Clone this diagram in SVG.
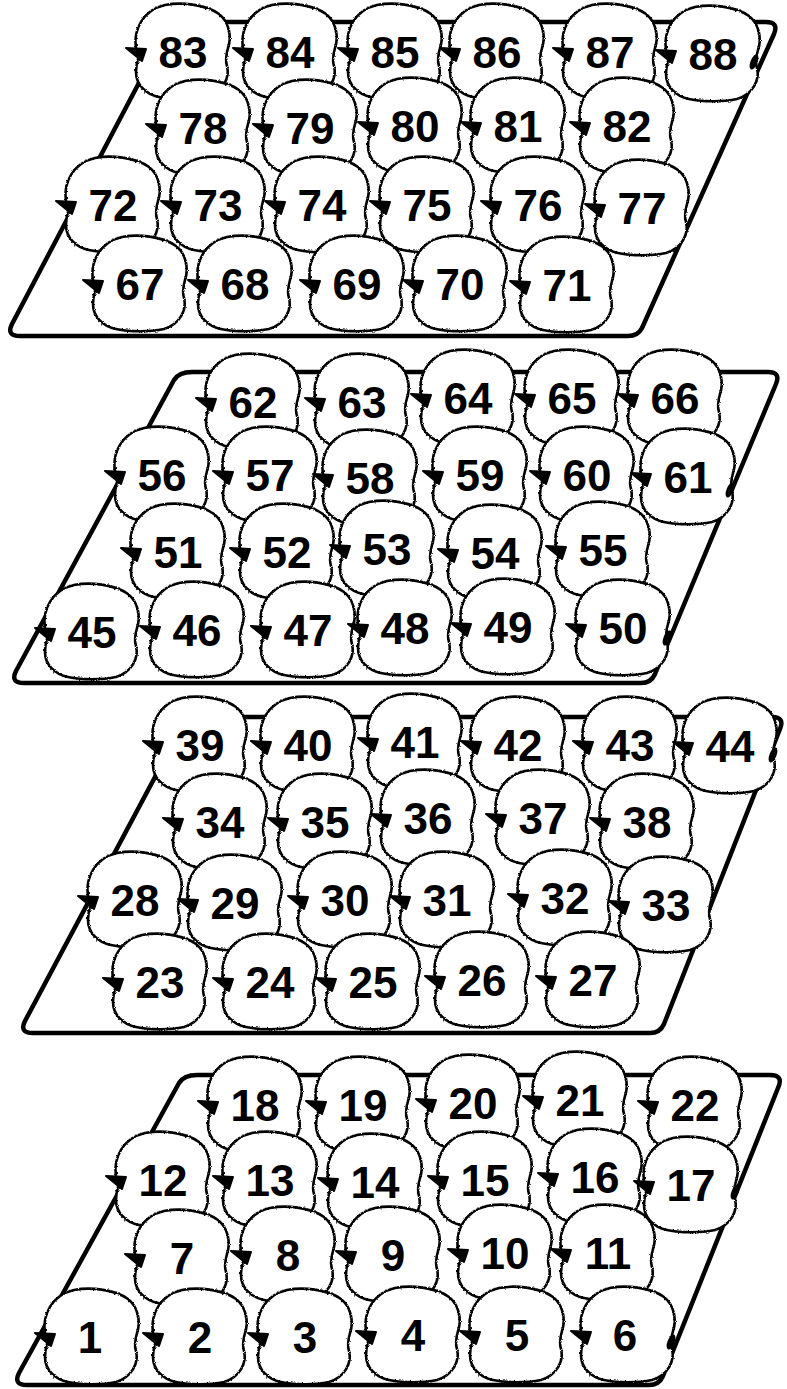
<svg xmlns="http://www.w3.org/2000/svg" xmlns:xlink="http://www.w3.org/1999/xlink" width="787" height="1389" viewBox="0 0 787 1389">
<style>
.tray{fill:none;stroke:#000;stroke-width:4.5;stroke-linejoin:round;stroke-linecap:round}
.ap{filter:url(#rough)}
text{font-family:"Liberation Sans",Arial,Helvetica,sans-serif;font-weight:bold;font-size:44px;fill:#000;text-anchor:middle}
.mk{fill:#000}
</style>
<defs>
<filter id="rough" x="-10%" y="-10%" width="120%" height="120%">
<feTurbulence type="fractalNoise" baseFrequency="0.7" numOctaves="2" seed="4" result="n"/>
<feDisplacementMap in="SourceGraphic" in2="n" scale="2.6" xChannelSelector="R" yChannelSelector="G"/>
</filter>
<path id="apple" fill="#fff" stroke="#000" stroke-width="2.6" stroke-linejoin="round" d="M -47,-4 C -50,-22 -40,-42 -18,-47 C -2,-50 22,-48 36,-38 C 46,-30 49,-16 45,-4 C 43,3 42,8 44,14 C 47,26 40,40 24,45 C 10,48 -10,48 -24,45 C -38,42 -47,32 -47,20 C -47,12 -45,8 -44,3 C -44,0 -46,-2 -47,-4 Z"/>
<path id="arr" fill="#000" stroke="#000" stroke-width="2" stroke-linejoin="round" d="M -57,-4 L -37,-3 L -41,9 Z"/>
</defs>
<rect width="787" height="1389" fill="#fff"/>
<g id="trays">
<path class="tray" d="M 171,22 L 766,22 Q 779,22 774,34 L 642,328 Q 638,336 628,336 L 20,336 Q 6,336 12,324 Z"/>
<path class="tray" d="M 192,372 L 768,372 Q 781,372 776,384 L 655,674 Q 651,683 641,683 L 24,683 Q 10,683 16,671 L 174,380 Q 179,372 192,372 Z"/>
<path class="tray" d="M 187,717 L 772,717 Q 785,717 780,729 L 664,1024 Q 660,1033 650,1033 L 33,1033 Q 19,1033 25,1021 Z"/>
<path class="tray" d="M 197,1075 L 770,1075 Q 784,1075 778,1088 L 663,1376 Q 659,1385 649,1385 L 27,1385 Q 13,1385 19,1373 L 179,1083 Q 184,1075 197,1075 Z"/>
</g>
<g id="tray1">
<g id="n83"><use class="ap" href="#apple" x="183" y="52"/><use href="#arr" x="183" y="52"/><text x="183" y="68">83</text></g>
<g id="n84"><use class="ap" href="#apple" x="290" y="52"/><use href="#arr" x="290" y="52"/><text x="290" y="68">84</text></g>
<g id="n85"><use class="ap" href="#apple" x="395" y="52"/><use href="#arr" x="395" y="52"/><text x="395" y="68">85</text></g>
<g id="n86"><use class="ap" href="#apple" x="497" y="52"/><use href="#arr" x="497" y="52"/><text x="497" y="68">86</text></g>
<g id="n87"><use class="ap" href="#apple" x="610" y="52"/><use href="#arr" x="610" y="52"/><text x="610" y="68">87</text></g>
<g id="n88"><use class="ap" href="#apple" x="713" y="54"/><use href="#arr" x="713" y="54"/><text x="713" y="70">88</text><ellipse class="mk" cx="754" cy="62" rx="3.5" ry="8" transform="rotate(22 754 62)"/></g>
<g id="n78"><use class="ap" href="#apple" x="203" y="128"/><use href="#arr" x="203" y="128"/><text x="203" y="144">78</text></g>
<g id="n79"><use class="ap" href="#apple" x="310" y="128"/><use href="#arr" x="310" y="128"/><text x="310" y="144">79</text></g>
<g id="n80"><use class="ap" href="#apple" x="415" y="126"/><use href="#arr" x="415" y="126"/><text x="415" y="142">80</text></g>
<g id="n81"><use class="ap" href="#apple" x="518" y="126"/><use href="#arr" x="518" y="126"/><text x="518" y="142">81</text></g>
<g id="n82"><use class="ap" href="#apple" x="627" y="126"/><use href="#arr" x="627" y="126"/><text x="627" y="142">82</text></g>
<g id="n72"><use class="ap" href="#apple" x="113" y="205"/><use href="#arr" x="113" y="205"/><text x="113" y="221">72</text></g>
<g id="n73"><use class="ap" href="#apple" x="218" y="205"/><use href="#arr" x="218" y="205"/><text x="218" y="221">73</text></g>
<g id="n74"><use class="ap" href="#apple" x="322" y="205"/><use href="#arr" x="322" y="205"/><text x="322" y="221">74</text></g>
<g id="n75"><use class="ap" href="#apple" x="427" y="205"/><use href="#arr" x="427" y="205"/><text x="427" y="221">75</text></g>
<g id="n76"><use class="ap" href="#apple" x="538" y="205"/><use href="#arr" x="538" y="205"/><text x="538" y="221">76</text></g>
<g id="n77"><use class="ap" href="#apple" x="642" y="208"/><use href="#arr" x="642" y="208"/><text x="642" y="224">77</text></g>
<g id="n67"><use class="ap" href="#apple" x="140" y="284"/><use href="#arr" x="140" y="284"/><text x="140" y="300">67</text></g>
<g id="n68"><use class="ap" href="#apple" x="245" y="284"/><use href="#arr" x="245" y="284"/><text x="245" y="300">68</text></g>
<g id="n69"><use class="ap" href="#apple" x="357" y="284"/><use href="#arr" x="357" y="284"/><text x="357" y="300">69</text></g>
<g id="n70"><use class="ap" href="#apple" x="460" y="284"/><use href="#arr" x="460" y="284"/><text x="460" y="300">70</text></g>
<g id="n71"><use class="ap" href="#apple" x="567" y="285"/><use href="#arr" x="567" y="285"/><text x="567" y="301">71</text></g>
</g>
<g id="tray2">
<g id="n62"><use class="ap" href="#apple" x="253" y="402"/><use href="#arr" x="253" y="402"/><text x="253" y="418">62</text></g>
<g id="n63"><use class="ap" href="#apple" x="362" y="402"/><use href="#arr" x="362" y="402"/><text x="362" y="418">63</text></g>
<g id="n64"><use class="ap" href="#apple" x="468" y="398"/><use href="#arr" x="468" y="398"/><text x="468" y="414">64</text></g>
<g id="n65"><use class="ap" href="#apple" x="572" y="398"/><use href="#arr" x="572" y="398"/><text x="572" y="414">65</text></g>
<g id="n66"><use class="ap" href="#apple" x="675" y="398"/><use href="#arr" x="675" y="398"/><text x="675" y="414">66</text></g>
<g id="n56"><use class="ap" href="#apple" x="162" y="475"/><use href="#arr" x="162" y="475"/><text x="162" y="491">56</text></g>
<g id="n57"><use class="ap" href="#apple" x="270" y="475"/><use href="#arr" x="270" y="475"/><text x="270" y="491">57</text></g>
<g id="n58"><use class="ap" href="#apple" x="370" y="478"/><use href="#arr" x="370" y="478"/><text x="370" y="494">58</text></g>
<g id="n59"><use class="ap" href="#apple" x="480" y="475"/><use href="#arr" x="480" y="475"/><text x="480" y="491">59</text></g>
<g id="n60"><use class="ap" href="#apple" x="587" y="475"/><use href="#arr" x="587" y="475"/><text x="587" y="491">60</text></g>
<g id="n61"><use class="ap" href="#apple" x="688" y="477"/><use href="#arr" x="688" y="477"/><text x="688" y="493">61</text><ellipse class="mk" cx="730" cy="490" rx="3.5" ry="8" transform="rotate(22 730 490)"/></g>
<g id="n51"><use class="ap" href="#apple" x="178" y="552"/><use href="#arr" x="178" y="552"/><text x="178" y="568">51</text></g>
<g id="n52"><use class="ap" href="#apple" x="287" y="552"/><use href="#arr" x="287" y="552"/><text x="287" y="568">52</text></g>
<g id="n53"><use class="ap" href="#apple" x="387" y="549"/><use href="#arr" x="387" y="549"/><text x="387" y="565">53</text></g>
<g id="n54"><use class="ap" href="#apple" x="495" y="553"/><use href="#arr" x="495" y="553"/><text x="495" y="569">54</text></g>
<g id="n55"><use class="ap" href="#apple" x="603" y="550"/><use href="#arr" x="603" y="550"/><text x="603" y="566">55</text></g>
<g id="n45"><use class="ap" href="#apple" x="92" y="632"/><use href="#arr" x="92" y="632"/><text x="92" y="648">45</text></g>
<g id="n46"><use class="ap" href="#apple" x="197" y="630"/><use href="#arr" x="197" y="630"/><text x="197" y="646">46</text></g>
<g id="n47"><use class="ap" href="#apple" x="308" y="630"/><use href="#arr" x="308" y="630"/><text x="308" y="646">47</text></g>
<g id="n48"><use class="ap" href="#apple" x="405" y="628"/><use href="#arr" x="405" y="628"/><text x="405" y="644">48</text></g>
<g id="n49"><use class="ap" href="#apple" x="508" y="627"/><use href="#arr" x="508" y="627"/><text x="508" y="643">49</text></g>
<g id="n50"><use class="ap" href="#apple" x="623" y="628"/><use href="#arr" x="623" y="628"/><text x="623" y="644">50</text><ellipse class="mk" cx="667" cy="638" rx="3.5" ry="8" transform="rotate(22 667 638)"/></g>
</g>
<g id="tray3">
<g id="n39"><use class="ap" href="#apple" x="200" y="745"/><use href="#arr" x="200" y="745"/><text x="200" y="761">39</text></g>
<g id="n40"><use class="ap" href="#apple" x="308" y="745"/><use href="#arr" x="308" y="745"/><text x="308" y="761">40</text></g>
<g id="n41"><use class="ap" href="#apple" x="415" y="742"/><use href="#arr" x="415" y="742"/><text x="415" y="758">41</text></g>
<g id="n42"><use class="ap" href="#apple" x="518" y="745"/><use href="#arr" x="518" y="745"/><text x="518" y="761">42</text></g>
<g id="n43"><use class="ap" href="#apple" x="630" y="745"/><use href="#arr" x="630" y="745"/><text x="630" y="761">43</text></g>
<g id="n44"><use class="ap" href="#apple" x="730" y="746"/><use href="#arr" x="730" y="746"/><text x="730" y="762">44</text><ellipse class="mk" cx="773" cy="755" rx="3.5" ry="8" transform="rotate(22 773 755)"/></g>
<g id="n34"><use class="ap" href="#apple" x="220" y="822"/><use href="#arr" x="220" y="822"/><text x="220" y="838">34</text></g>
<g id="n35"><use class="ap" href="#apple" x="325" y="822"/><use href="#arr" x="325" y="822"/><text x="325" y="838">35</text></g>
<g id="n36"><use class="ap" href="#apple" x="428" y="818"/><use href="#arr" x="428" y="818"/><text x="428" y="834">36</text></g>
<g id="n37"><use class="ap" href="#apple" x="543" y="818"/><use href="#arr" x="543" y="818"/><text x="543" y="834">37</text></g>
<g id="n38"><use class="ap" href="#apple" x="647" y="822"/><use href="#arr" x="647" y="822"/><text x="647" y="838">38</text></g>
<g id="n28"><use class="ap" href="#apple" x="135" y="900"/><use href="#arr" x="135" y="900"/><text x="135" y="916">28</text></g>
<g id="n29"><use class="ap" href="#apple" x="235" y="903"/><use href="#arr" x="235" y="903"/><text x="235" y="919">29</text></g>
<g id="n30"><use class="ap" href="#apple" x="345" y="900"/><use href="#arr" x="345" y="900"/><text x="345" y="916">30</text></g>
<g id="n31"><use class="ap" href="#apple" x="447" y="900"/><use href="#arr" x="447" y="900"/><text x="447" y="916">31</text></g>
<g id="n32"><use class="ap" href="#apple" x="565" y="898"/><use href="#arr" x="565" y="898"/><text x="565" y="914">32</text></g>
<g id="n33"><use class="ap" href="#apple" x="666" y="905"/><use href="#arr" x="666" y="905"/><text x="666" y="921">33</text></g>
<g id="n23"><use class="ap" href="#apple" x="160" y="982"/><use href="#arr" x="160" y="982"/><text x="160" y="998">23</text></g>
<g id="n24"><use class="ap" href="#apple" x="270" y="982"/><use href="#arr" x="270" y="982"/><text x="270" y="998">24</text></g>
<g id="n25"><use class="ap" href="#apple" x="373" y="982"/><use href="#arr" x="373" y="982"/><text x="373" y="998">25</text></g>
<g id="n26"><use class="ap" href="#apple" x="482" y="980"/><use href="#arr" x="482" y="980"/><text x="482" y="996">26</text></g>
<g id="n27"><use class="ap" href="#apple" x="593" y="980"/><use href="#arr" x="593" y="980"/><text x="593" y="996">27</text></g>
</g>
<g id="tray4">
<g id="n18"><use class="ap" href="#apple" x="255" y="1105"/><use href="#arr" x="255" y="1105"/><text x="255" y="1121">18</text></g>
<g id="n19"><use class="ap" href="#apple" x="363" y="1105"/><use href="#arr" x="363" y="1105"/><text x="363" y="1121">19</text></g>
<g id="n20"><use class="ap" href="#apple" x="473" y="1103"/><use href="#arr" x="473" y="1103"/><text x="473" y="1119">20</text></g>
<g id="n21"><use class="ap" href="#apple" x="580" y="1100"/><use href="#arr" x="580" y="1100"/><text x="580" y="1116">21</text></g>
<g id="n22"><use class="ap" href="#apple" x="695" y="1105"/><use href="#arr" x="695" y="1105"/><text x="695" y="1121">22</text></g>
<g id="n12"><use class="ap" href="#apple" x="163" y="1180"/><use href="#arr" x="163" y="1180"/><text x="163" y="1196">12</text></g>
<g id="n13"><use class="ap" href="#apple" x="270" y="1180"/><use href="#arr" x="270" y="1180"/><text x="270" y="1196">13</text></g>
<g id="n14"><use class="ap" href="#apple" x="375" y="1182"/><use href="#arr" x="375" y="1182"/><text x="375" y="1198">14</text></g>
<g id="n15"><use class="ap" href="#apple" x="485" y="1180"/><use href="#arr" x="485" y="1180"/><text x="485" y="1196">15</text></g>
<g id="n16"><use class="ap" href="#apple" x="595" y="1177"/><use href="#arr" x="595" y="1177"/><text x="595" y="1193">16</text></g>
<g id="n17"><use class="ap" href="#apple" x="691" y="1185"/><use href="#arr" x="691" y="1185"/><text x="691" y="1201">17</text><ellipse class="mk" cx="735" cy="1192" rx="3.5" ry="8" transform="rotate(22 735 1192)"/></g>
<g id="n7"><use class="ap" href="#apple" x="182" y="1258"/><use href="#arr" x="182" y="1258"/><text x="182" y="1274">7</text></g>
<g id="n8"><use class="ap" href="#apple" x="288" y="1255"/><use href="#arr" x="288" y="1255"/><text x="288" y="1271">8</text></g>
<g id="n9"><use class="ap" href="#apple" x="393" y="1255"/><use href="#arr" x="393" y="1255"/><text x="393" y="1271">9</text></g>
<g id="n10"><use class="ap" href="#apple" x="505" y="1253"/><use href="#arr" x="505" y="1253"/><text x="505" y="1269">10</text></g>
<g id="n11"><use class="ap" href="#apple" x="608" y="1253"/><use href="#arr" x="608" y="1253"/><text x="608" y="1269">11</text></g>
<g id="n1"><use class="ap" href="#apple" x="92" y="1337"/><use href="#arr" x="92" y="1337"/><text x="90" y="1353">1</text></g>
<g id="n2"><use class="ap" href="#apple" x="200" y="1337"/><use href="#arr" x="200" y="1337"/><text x="200" y="1353">2</text></g>
<g id="n3"><use class="ap" href="#apple" x="305" y="1337"/><use href="#arr" x="305" y="1337"/><text x="305" y="1353">3</text></g>
<g id="n4"><use class="ap" href="#apple" x="413" y="1335"/><use href="#arr" x="413" y="1335"/><text x="413" y="1351">4</text></g>
<g id="n5"><use class="ap" href="#apple" x="517" y="1335"/><use href="#arr" x="517" y="1335"/><text x="517" y="1351">5</text></g>
<g id="n6"><use class="ap" href="#apple" x="628" y="1335"/><use href="#arr" x="628" y="1335"/><text x="625" y="1351">6</text><ellipse class="mk" cx="671" cy="1342" rx="3.5" ry="8" transform="rotate(22 671 1342)"/></g>
</g>
<g id="connectors"/>
</svg>
